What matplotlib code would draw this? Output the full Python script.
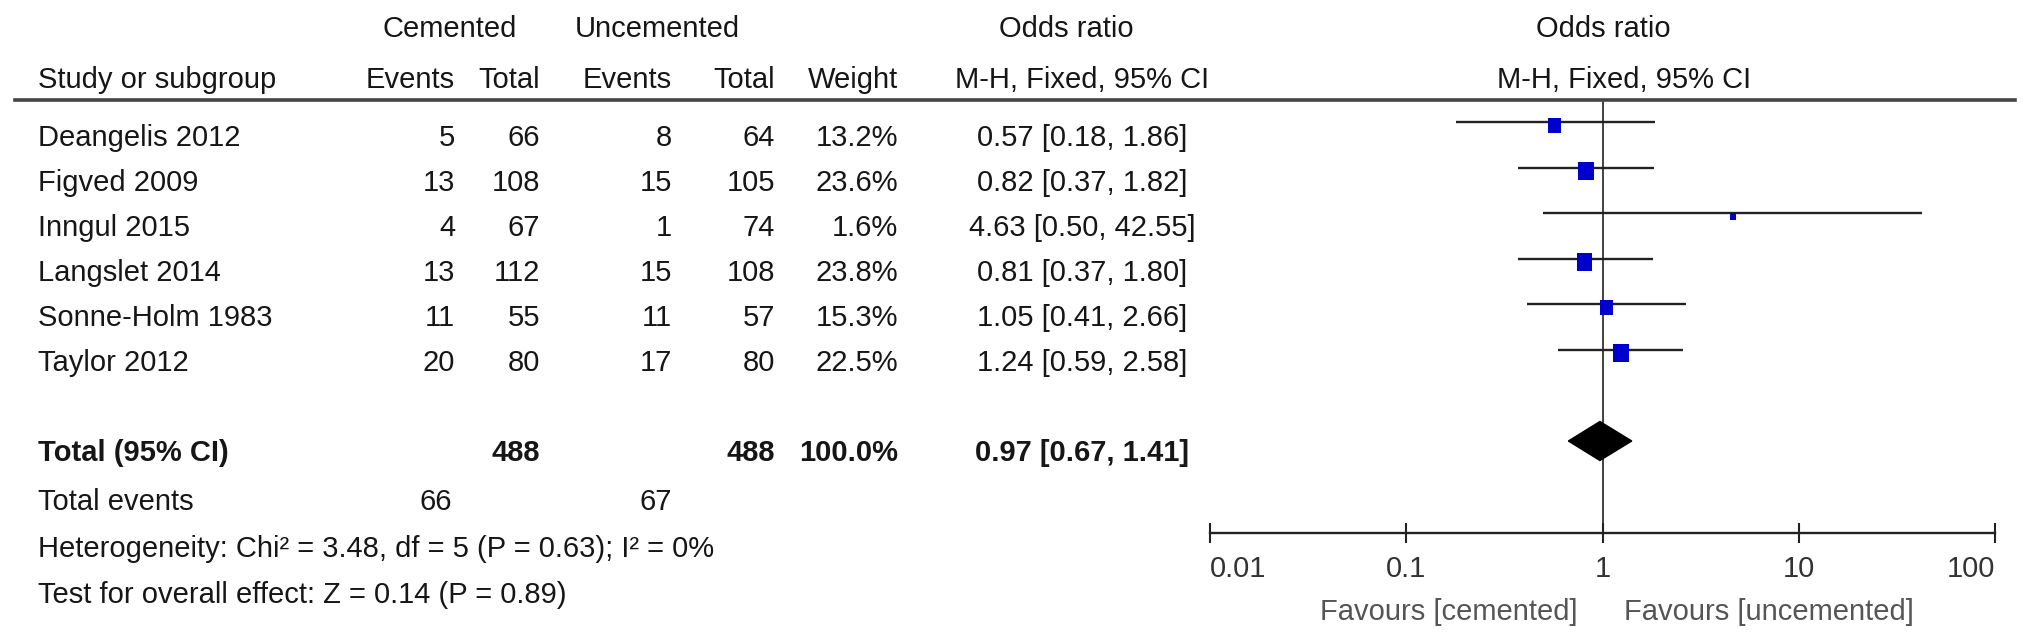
import matplotlib
matplotlib.use("Agg")
import matplotlib.pyplot as plt
from matplotlib.lines import Line2D

plt.rcParams["font.family"] = ["Liberation Sans", "DejaVu Sans"]

# Study data
studies = ["Deangelis 2012", "Figved 2009", "Inngul 2015", "Langslet 2014",
           "Sonne-Holm 1983", "Taylor 2012"]
cem_events = [5, 13, 4, 13, 11, 20]
cem_total = [66, 108, 67, 112, 55, 80]
unc_events = [8, 15, 1, 15, 11, 17]
unc_total = [64, 105, 74, 108, 57, 80]
weights = [13.2, 23.6, 1.6, 23.8, 15.3, 22.5]
odds = [0.57, 0.82, 4.63, 0.81, 1.05, 1.24]
ci_low = [0.18, 0.37, 0.50, 0.37, 0.41, 0.59]
ci_high = [1.86, 1.82, 42.55, 1.80, 2.66, 2.58]

# Pooled result
total_cem, total_unc = 488, 488
events_cem, events_unc = 66, 67
total_or, total_lo, total_hi = 0.97, 0.67, 1.41
heterogeneity = "Heterogeneity: Chi² = 3.48, df = 5 (P = 0.63); I² = 0%"
overall = "Test for overall effect: Z = 0.14 (P = 0.89)"

xticks = [0.01, 0.1, 1, 10, 100]
xtick_labels = ["0.01", "0.1", "1", "10", "100"]

W, H = 2032, 642
FS = 21
TXT = "#161616"

fig = plt.figure(figsize=(W / 100, H / 100), dpi=100)


def put(x, y, s, ha="left", bold=False, color=TXT, size=FS):
    # x, y in pixels from top-left, y is the baseline
    fig.text(x / W, 1 - y / H, s, ha=ha, va="baseline", fontsize=size,
             color=color, fontweight="bold" if bold else "normal")


# column headers
put(450, 37, "Cemented", ha="center")
put(657, 37, "Uncemented", ha="center")
put(1066, 37, "Odds ratio", ha="center")
put(1603, 37, "Odds ratio", ha="center")
put(38, 88, "Study or subgroup")
put(455, 88, "Events", ha="right")
put(540, 88, "Total", ha="right")
put(672, 88, "Events", ha="right")
put(775, 88, "Total", ha="right")
put(898, 88, "Weight", ha="right")
put(1082, 88, "M-H, Fixed, 95% CI", ha="center")
put(1624, 88, "M-H, Fixed, 95% CI", ha="center")

fig.add_artist(Line2D([15 / W, 2015 / W], [1 - 100 / H, 1 - 100 / H],
                      color="#444444", lw=2.6))

# study rows
for i, name in enumerate(studies):
    yb = 146 + 45 * i
    put(38, yb, name)
    put(455, yb, str(cem_events[i]), ha="right")
    put(540, yb, str(cem_total[i]), ha="right")
    put(672, yb, str(unc_events[i]), ha="right")
    put(775, yb, str(unc_total[i]), ha="right")
    put(898, yb, f"{weights[i]:.1f}%", ha="right")
    put(1082, yb, f"{odds[i]:.2f} [{ci_low[i]:.2f}, {ci_high[i]:.2f}]", ha="center")

# total rows
put(38, 461, "Total (95% CI)", bold=True)
put(540, 461, str(total_cem), ha="right", bold=True)
put(775, 461, str(total_unc), ha="right", bold=True)
put(898, 461, f"{sum(weights):.1f}%", ha="right", bold=True)
put(1082, 461, f"{total_or:.2f} [{total_lo:.2f}, {total_hi:.2f}]", ha="center", bold=True)
put(38, 510, "Total events")
put(452, 510, str(events_cem), ha="right")
put(672, 510, str(events_unc), ha="right")
put(38, 557, heterogeneity)
put(38, 603, overall)

# forest plot axes, y in pixel rows
x0, x1, ytop, ybot = 1210, 1995, 100, 533
ax = fig.add_axes([x0 / W, 1 - ybot / H, (x1 - x0) / W, (ybot - ytop) / H])
ax.set_xscale("log")
ax.set_xlim(0.01, 100)
ax.set_ylim(ybot, ytop)
ax.patch.set_alpha(0)
for side in ["top", "left", "right"]:
    ax.spines[side].set_visible(False)
ax.spines["bottom"].set_linewidth(1.7)
ax.spines["bottom"].set_color("#222222")
ax.set_yticks([])
ax.minorticks_off()
ax.set_xticks(xticks)
ax.set_xticklabels(xtick_labels)
ax.tick_params(axis="x", direction="inout", length=15, width=1.5, color="#222222",
               labelsize=FS, labelcolor="#333333", pad=8)
labels = ax.get_xticklabels()
labels[0].set_ha("left")
labels[-1].set_ha("right")

ax.axvline(1, color="#333333", lw=1.3, zorder=1)

line_y = [122 + 45.5 * i for i in range(len(studies))]
ax.hlines(line_y, ci_low, ci_high, color="#222222", lw=1.7, zorder=2)
# square side grows with study weight
sides = [(3.5 + 2.9 * w ** 0.5) * 0.72 for w in weights]
box = [(-0.45, -0.5), (0.45, -0.5), (0.45, 0.5), (-0.45, 0.5), (-0.45, -0.5)]
ax.scatter(odds, [y + 3.5 for y in line_y], marker=box, s=[s ** 2 for s in sides],
           color="#0000cc", linewidths=0, zorder=3)

yc, hd = 441, 19.5
ax.fill([total_lo, total_or, total_hi, total_or], [yc, yc - hd, yc, yc + hd],
        color="black", zorder=3)

ax.annotate("Favours [cemented]", xy=(1, 0), xycoords=("data", "axes fraction"),
            xytext=(-25, -87), textcoords="offset pixels", ha="right",
            va="baseline", fontsize=FS, color="#555555")
ax.annotate("Favours [uncemented]", xy=(1, 0), xycoords=("data", "axes fraction"),
            xytext=(22, -87), textcoords="offset pixels", ha="left",
            va="baseline", fontsize=FS, color="#555555")

fig.savefig("out.png", dpi=100)
